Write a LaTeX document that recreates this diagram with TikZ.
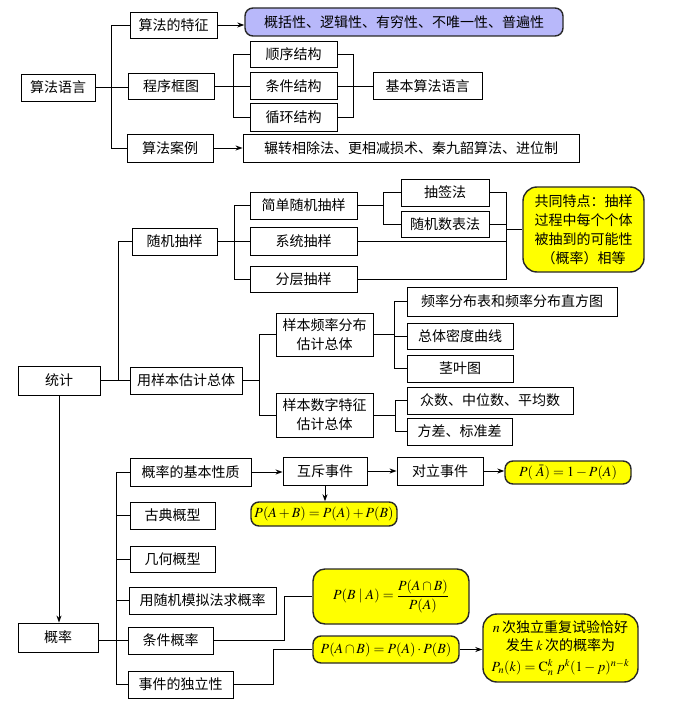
\documentclass[tikz,border=0pt]{standalone}
\usepackage{mathptmx}
\usepackage[no-math]{fontspec}
\setmainfont{Noto Sans CJK SC}
\usetikzlibrary{arrows.meta}
\definecolor{lav}{RGB}{184,184,250}
\definecolor{yel}{RGB}{255,255,0}
\definecolor{bord}{RGB}{40,40,40}
\begin{document}
\begin{tikzpicture}[x=1pt,y=-1pt,
  font=\fontsize{14}{19}\selectfont,
  box/.style={draw, line width=0.9pt, inner sep=0pt, align=center},
  bub/.style={draw=bord, line width=1.4pt, rounded corners=8pt, inner sep=0pt, align=center, fill=yel},
  ln/.style={line width=0.9pt},
  arr/.style={line width=0.9pt, -{Stealth[length=7pt,width=5pt]}}]
\useasboundingbox (0,0) rectangle (679,708);
\fill[white] (0,0) rectangle (679,708);
% ---------- 算法语言 ----------
\node[box, minimum width=74pt, minimum height=27pt] (a1) at (58,87.5) {算法语言};
\node[box, minimum width=87pt, minimum height=26pt] (a2) at (173.5,25) {算法的特征};
\node[bub, fill=lav, minimum width=318pt, minimum height=28pt] (a3) at (404,22) {概括性、逻辑性、有穷性、不唯一性、普遍性};
\node[box, minimum width=86pt, minimum height=26pt] (a4) at (171,86) {程序框图};
\node[box, minimum width=86pt, minimum height=28pt] (a5) at (170,148) {算法案例};
\node[box, minimum width=336pt, minimum height=28pt] (a6) at (411,148) {辗转相除法、更相减损术、秦九韶算法、进位制};
\node[box, minimum width=87pt, minimum height=26pt] (a7) at (293.5,54) {顺序结构};
\node[box, minimum width=87pt, minimum height=27pt] (a8) at (293.5,86) {条件结构};
\node[box, minimum width=87pt, minimum height=28pt] (a9) at (293.5,117) {循环结构};
\node[box, minimum width=109pt, minimum height=27pt] (a10) at (427.5,86) {基本算法语言};
\coordinate (t1) at (111,0);
\coordinate (t2) at (233,0);
\coordinate (t3) at (353,0);
\draw[ln] (a1.east) -- (a1.east -| a4.west);
\draw[ln] (a2.west) -| (t1 |- a5.west) -- (a5.west);
\draw[arr] (a2.east) -- (a2.east -| a3.west);
\draw[arr] (a5.east) -- (a6.west);
\draw[ln] (a4.east) -- (a8.west);
\draw[ln] (a7.west) -| (t2 |- a9.west) -- (a9.west);
\draw[ln] (a7.east) -| (t3 |- a9.east) -- (a9.east);
\draw[ln] (a8.east) -- (a10.west);
% ---------- 统计 ----------
\node[box, minimum width=82pt, minimum height=29pt] (s1) at (59,380.5) {统计};
\node[box, minimum width=85pt, minimum height=27pt] (s2) at (174.5,241.5) {随机抽样};
\node[box, minimum width=112pt, minimum height=27pt] (s3) at (186,380.5) {用样本估计总体};
\node[box, minimum width=107pt, minimum height=27pt] (s4) at (303.5,205.5) {简单随机抽样};
\node[box, minimum width=107pt, minimum height=28pt] (s5) at (303.5,241.5) {系统抽样};
\node[box, minimum width=107pt, minimum height=26pt] (s6) at (303.5,279) {分层抽样};
\node[box, minimum width=88pt, minimum height=27pt] (s7) at (445,192.5) {抽签法};
\node[box, minimum width=88pt, minimum height=26pt] (s8) at (445,224) {随机数表法};
\node[bub, rounded corners=14pt, minimum width=121pt, minimum height=85pt] (s9) at (583.5,229.5) {共同特点：抽样\\过程中每个个体\\被抽到的可能性\\（概率）相等};
\node[box, minimum width=97pt, minimum height=43pt] (s10) at (324.5,334.5) {样本频率分布\\估计总体};
\node[box, minimum width=97pt, minimum height=44pt] (s11) at (324.5,415) {样本数字特征\\估计总体};
\node[box, minimum width=210pt, minimum height=29pt] (s12) at (512,301.5) {频率分布表和频率分布直方图};
\node[box, minimum width=106pt, minimum height=26pt] (s13) at (460,336) {总体密度曲线};
\node[box, minimum width=106pt, minimum height=27pt] (s14) at (460,368.5) {茎叶图};
\node[box, minimum width=166pt, minimum height=27pt] (s15) at (490,400.5) {众数、中位数、平均数};
\node[box, minimum width=105pt, minimum height=27pt] (s16) at (459.5,431.5) {方差、标准差};
\coordinate (t4) at (118,0);
\coordinate (t5) at (234,0);
\coordinate (t6) at (383,0);
\coordinate (t7) at (506,0);
\coordinate (t8) at (259,0);
\coordinate (t9) at (394,0);
\coordinate (t10) at (395,0);
\draw[ln] (s1.east) -- (s3.west);
\draw[ln] (s2.west) -| (t4 |- s3.west);
\draw[ln] (s2.east) -- (s5.west);
\draw[ln] (s4.west) -| (t5 |- s6.west) -- (s6.west);
\draw[ln] (s4.east) -- (t6 |- s4.east);
\draw[ln] (s7.west) -| (t6 |- s8.west) -- (s8.west);
\draw[ln] (s7.east) -| (t7 |- s6.east) -- (s6.east);
\draw[ln] (s8.east) -- (t7 |- s8.east);
\draw[ln] (s5.east) -- (t7 |- s5.east);
\draw[ln] (t7 |- s9.west) -- (s9.west);
\draw[ln] (s3.east) -- (t8 |- s3.east);
\draw[ln] (s10.west) -| (t8 |- s11.west) -- (s11.west);
\draw[ln] (s10.east) -- (t9 |- s10.east);
\draw[ln] (s12.west) -| (t9 |- s14.west) -- (s14.west);
\draw[ln] (t9 |- s13.west) -- (s13.west);
\draw[ln] (s11.east) -- (t10 |- s11.east);
\draw[ln] (s15.west) -| (t10 |- s16.west) -- (s16.west);
% ---------- 概率 ----------
\node[box, minimum width=80pt, minimum height=29pt] (p1) at (58,637.5) {概率};
\node[box, minimum width=121pt, minimum height=28pt] (p2) at (190.5,472) {概率的基本性质};
\node[box, minimum width=85pt, minimum height=27pt] (p3) at (172.5,515.5) {古典概型};
\node[box, minimum width=85pt, minimum height=26pt] (p4) at (172.5,559) {几何概型};
\node[box, minimum width=147pt, minimum height=27pt] (p5) at (202.5,600.5) {用随机模拟法求概率};
\node[box, minimum width=85pt, minimum height=27pt] (p6) at (170.5,640.5) {条件概率};
\node[box, minimum width=105pt, minimum height=27pt] (p7) at (180.5,684.5) {事件的独立性};
\node[box, minimum width=84pt, minimum height=28pt] (p8) at (325,471) {互斥事件};
\node[bub, minimum width=146pt, minimum height=24pt] (p9) at (324,514) {$P(A+B)=P(A)+P(B)$};
\node[box, minimum width=86pt, minimum height=28pt] (p10) at (440,471) {对立事件};
\node[bub, minimum width=126pt, minimum height=23pt] (p11) at (568,472.5) {$P(\;\bar{A})=1-P(A)$};
\node[bub, rounded corners=12pt, minimum width=156pt, minimum height=55pt] (p12) at (391,596.5) {$\displaystyle P(B\mid A)=\frac{P(A\cap B)}{P(A)}$};
\node[bub, minimum width=146pt, minimum height=27pt] (p13) at (386,649.5) {$P(A\cap B)=P(A)\cdot P(B)$};
\node[bub, rounded corners=14pt, minimum width=155pt, minimum height=68pt] (p14) at (560.5,648) {$n$\,次独立重复试验恰好\\[-1pt]发生\,$k$\,次的概率为\\[2pt]$P_n(k)=\mathrm{C}_n^k\;p^k(1-p)^{n-k}$};
\coordinate (t11) at (116,0);
\coordinate (t12) at (284,0);
\coordinate (t13) at (273,0);
\draw[arr] (s1.south) -- (s1.south |- p1.north);
\draw[ln] (p1.east |- p6.west) -- (p6.west);
\draw[ln] (p2.west) -| (t11 |- p7.west) -- (p7.west);
\draw[ln] (t11 |- p3.west) -- (p3.west);
\draw[ln] (t11 |- p4.west) -- (p4.west);
\draw[ln] (t11 |- p5.west) -- (p5.west);
\draw[arr] (p2.east) -- (p2.east -| p8.west);
\draw[arr] (p8.east) -- (p10.west);
\draw[arr] (p10.east) -- (p10.east -| p11.west);
\draw[arr] (p8.south) -- (p8.south |- p9.north);
\draw[ln] (p6.east) -| (t12 |- p12.west) -- (p12.west);
\draw[ln] (p7.east) -| (t13 |- p13.west) -- (p13.west);
\draw[arr] (p13.east) -- (p13.east -| p14.west);
\end{tikzpicture}
\end{document}
